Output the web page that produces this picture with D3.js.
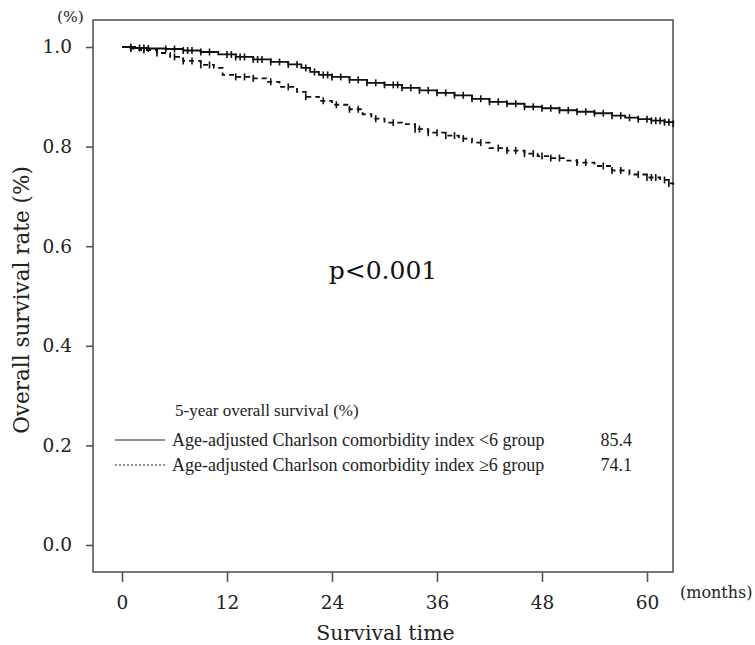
<!DOCTYPE html>
<html>
<head>
<meta charset="utf-8">
<script src="https://cdn.jsdelivr.net/npm/d3@7"></script>
<style>
  body { margin: 0; background: #fff; }
  svg { display: block; }
</style>
</head>
<body>
<div id="chart"></div>
<script>
// Kaplan-Meier steps (months, survival)
const lowTime = [0, 1.5, 3, 5, 7, 9, 11, 13, 15, 17, 19, 20.5, 21.5, 22.5, 24, 26, 28, 30, 32, 34, 36, 38, 40, 42, 44, 46, 48, 50, 52, 54, 56, 57.5, 59, 60.5, 62, 63]
const lowSurv = [1, 0.998, 0.997, 0.996, 0.993, 0.99, 0.985, 0.98, 0.975, 0.97, 0.965, 0.958, 0.95, 0.944, 0.94, 0.934, 0.928, 0.924, 0.918, 0.913, 0.908, 0.903, 0.896, 0.89, 0.886, 0.88, 0.877, 0.873, 0.87, 0.867, 0.862, 0.858, 0.855, 0.852, 0.849, 0.846]
const highTime = [0, 1, 2, 4, 5.5, 7, 9, 10.5, 11.5, 13, 15, 16.5, 18, 20, 21, 22.5, 24, 26, 27.5, 28.5, 30, 32, 33.5, 35, 37, 38.5, 40, 42, 44, 46, 47.5, 49, 50.5, 52, 54, 56, 58, 60, 61.5, 62.5, 63]
const highSurv = [1, 0.997, 0.994, 0.988, 0.98, 0.972, 0.964, 0.958, 0.944, 0.94, 0.937, 0.93, 0.92, 0.91, 0.9, 0.892, 0.884, 0.875, 0.865, 0.856, 0.848, 0.845, 0.835, 0.828, 0.822, 0.816, 0.808, 0.797, 0.792, 0.786, 0.781, 0.777, 0.772, 0.768, 0.761, 0.752, 0.744, 0.738, 0.733, 0.726, 0.72]

// censored observations (months)
const lowCensor = [1, 2, 2.5, 3, 5, 6, 7, 7.5, 8, 9, 10, 12, 12.5, 13, 13.5, 14, 15, 15.5, 16, 17, 18, 19, 20, 21, 22, 23, 23.5, 24, 25, 26, 27, 28, 29, 30, 31, 31.5, 32, 33, 34, 35, 36, 37, 38, 39, 40, 41, 42, 43, 44, 45, 46, 47, 48, 49, 50, 51, 52, 53, 54, 55, 56, 57, 58, 59, 60, 60.5, 61, 61.5, 62, 62.5, 63]
const highCensor = [1, 2.5, 4, 6, 7, 8, 9, 10, 13, 14, 15, 17, 19, 21, 23, 24.5, 26, 27, 29, 31, 33.5, 34, 35, 36, 37, 38, 39, 41, 43, 44, 45, 46, 47, 48, 49, 50, 52, 53, 55, 56, 57, 59, 60, 60.5, 61, 62, 62.5]

const xTicks = [0, 12, 24, 36, 48, 60]
const yTicks = [0, 0.2, 0.4, 0.6, 0.8, 1.0]
const legendLabels = ["Age-adjusted Charlson comorbidity index <6 group", "Age-adjusted Charlson comorbidity index \u22656 group"]
const legendValues = ["85.4", "74.1"]

const width = 755, height = 645
const frame = { left: 93, top: 20, right: 673, bottom: 572 }
const serif = "Liberation Serif, serif"
const wide = "DejaVu Serif, serif"

const svg = d3.select("#chart").append("svg")
  .attr("width", width)
  .attr("height", height)
  .attr("font-family", serif)

const x = d3.scaleLinear().domain([0, 60]).range([122, 647])
const y = d3.scaleLinear().domain([0, 1]).range([545, 47])

// frame box
svg.append("rect")
  .attr("x", frame.left).attr("y", frame.top)
  .attr("width", frame.right - frame.left)
  .attr("height", frame.bottom - frame.top)
  .attr("fill", "none")
  .attr("stroke", "#555")
  .attr("stroke-width", 1.6)

// Y axis
const yAxis = svg.append("g")
  .attr("transform", `translate(${frame.left},0)`)
  .call(d3.axisLeft(y).tickValues(yTicks).tickFormat(d3.format(".1f")).tickSize(7).tickPadding(14))
yAxis.select(".domain").remove()
yAxis.selectAll("line").attr("stroke", "#555").attr("stroke-width", 1.6)
yAxis.selectAll("text").attr("font-size", 18.5).attr("font-family", wide).attr("fill", "#222")

// X axis
const xAxis = svg.append("g")
  .attr("transform", `translate(0,${frame.bottom})`)
  .call(d3.axisBottom(x).tickValues(xTicks).tickSize(10).tickPadding(14))
xAxis.select(".domain").remove()
xAxis.selectAll("line").attr("stroke", "#555").attr("stroke-width", 1.6)
xAxis.selectAll("text").attr("font-size", 18.5).attr("font-family", wide).attr("fill", "#222")

svg.append("text").attr("x", 680).attr("y", 598).attr("font-family", wide).attr("font-size", 16)
  .attr("fill", "#222").text("(months)")
svg.append("text").attr("x", (x(0) + x(60)) / 2 + 1).attr("y", 640).attr("text-anchor", "middle")
  .attr("font-family", wide).attr("font-size", 20.5).attr("fill", "#222").text("Survival time")

svg.append("text").attr("x", 57).attr("y", 22).attr("font-family", wide).attr("font-size", 15.5)
  .attr("fill", "#222").text("(%)")
svg.append("text")
  .attr("transform", "translate(29,300) rotate(-90)")
  .attr("text-anchor", "middle")
  .attr("font-family", wide)
  .attr("font-size", 21.5)
  .attr("fill", "#222")
  .text("Overall survival rate (%)")

// curves
const line = d3.line()
  .curve(d3.curveStepAfter)
  .x(d => x(d[0]))
  .y(d => y(d[1]))

function drawGroup(times, surv, censor, dash) {
  const pts = times.map((t, i) => [t, surv[i]])
  svg.append("path")
    .datum(pts)
    .attr("fill", "none")
    .attr("stroke", "#111")
    .attr("stroke-width", 1.8)
    .attr("stroke-dasharray", dash)
    .attr("d", line)
  const bis = d3.bisector(d => d[0]).right
  svg.append("g").selectAll("line")
    .data(censor)
    .join("line")
    .attr("x1", d => x(d)).attr("x2", d => x(d))
    .attr("y1", d => y(pts[Math.max(0, bis(pts, d) - 1)][1]) - 3.5)
    .attr("y2", d => y(pts[Math.max(0, bis(pts, d) - 1)][1]) + 3.5)
    .attr("stroke", "#111")
    .attr("stroke-width", 1.6)
}
drawGroup(lowTime, lowSurv, lowCensor, null)
drawGroup(highTime, highSurv, highCensor, "5,4")

// p value
svg.append("text")
  .attr("x", 383).attr("y", 279)
  .attr("text-anchor", "middle")
  .attr("font-family", wide)
  .attr("font-size", 25)
  .attr("fill", "#111")
  .text("p<0.001")

// legend
svg.append("text").attr("x", 175).attr("y", 416).attr("font-size", 17).attr("fill", "#222")
  .text("5-year overall survival (%)")
const lg = svg.append("g")
legendLabels.forEach((lab, i) => {
  const ly = 440 + i * 25
  lg.append("line")
    .attr("x1", 115).attr("x2", 165).attr("y1", ly).attr("y2", ly)
    .attr("stroke", "#222").attr("stroke-width", 1)
    .attr("stroke-dasharray", i === 1 ? "2,2" : null)
  lg.append("text").attr("x", 172).attr("y", ly + 6).attr("font-size", 18).attr("fill", "#222").text(lab)
  lg.append("text").attr("x", 632).attr("y", ly + 6).attr("text-anchor", "end").attr("font-size", 18)
    .attr("fill", "#222").text(legendValues[i])
})
</script>
</body>
</html>
